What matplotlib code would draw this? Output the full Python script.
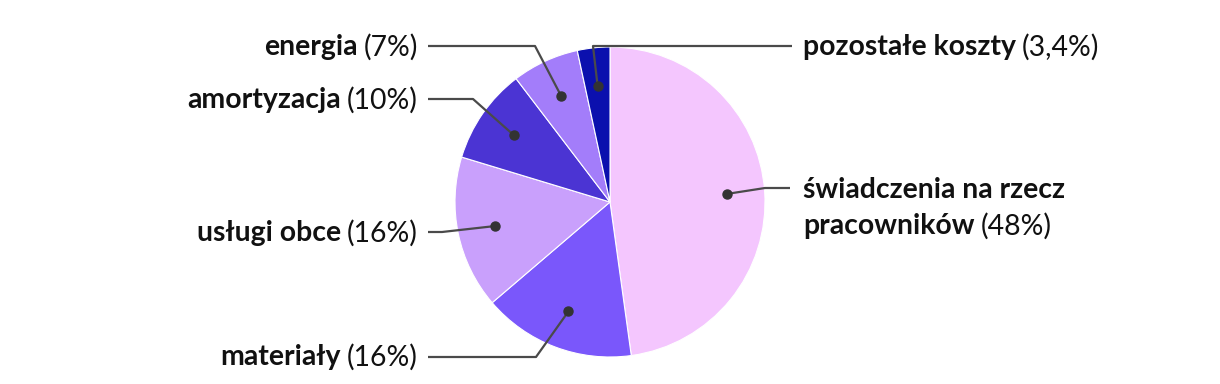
import matplotlib
matplotlib.use('Agg')
import matplotlib.pyplot as plt
import numpy as np

plt.rcParams['font.family'] = ['Lato', 'DejaVu Sans']

names = ['świadczenia na rzecz\npracowników', 'materiały', 'usługi obce',
         'amortyzacja', 'energia', 'pozostałe koszty']
pct_text = ['(48%)', '(16%)', '(16%)', '(10%)', '(7%)', '(3,4%)']
values = [48, 16, 16, 10, 7, 3.4]
colors = ['#f4c6fe', '#7a57fb', '#c9a0fc', '#4b34d3', '#a37dfa', '#0b10ae']

W, H = 1220, 384
# label layout in pixels (x of text anchor, y from top, side)
label_pos = [(803, 190, 'r'), (418, 357, 'l'), (418, 233, 'l'),
             (418, 100, 'l'), (418, 47, 'l'), (803, 47, 'r')]
# leader elbow and end (pixels from top)
elbows = [(765, 188), (536, 357), (442, 232), (473, 99), (535, 46), (593, 46)]
ends = [790, 428, 428, 428, 428, 792]

fig = plt.figure(figsize=(W / 100, H / 100), dpi=100)
ax = fig.add_axes([0, 0, 1, 1])

cx, cy, r = 610, H - 202, 155
wedges, _ = ax.pie(values, colors=colors, startangle=90, counterclock=False,
                   center=(cx, cy), radius=r,
                   wedgeprops=dict(edgecolor='white', linewidth=0.8))
ax.set_xlim(0, W)
ax.set_ylim(0, H)
ax.set_aspect('equal')
ax.axis('off')

fs = 20.4
fig.canvas.draw()
renderer = fig.canvas.get_renderer()


def width_of(t):
    bb = t.get_window_extent(renderer=renderer)
    return bb.width


for w, name, pt, (lx, ly, side), (ex, ey), endx in zip(
        wedges, names, pct_text, label_pos, elbows, ends):
    mid = np.deg2rad((w.theta1 + w.theta2) / 2)
    dx = cx + 0.755 * r * np.cos(mid)
    dy = cy + 0.755 * r * np.sin(mid)
    ax.plot([dx, ex, endx], [dy, H - ey, H - ey], color='#4a4a4a', lw=1.6,
            solid_capstyle='butt', zorder=3)
    ax.plot(dx, dy, 'o', color='#333333', ms=6.5, zorder=4)

    lines = name.split('\n')
    y = H - ly
    if side == 'l':
        t2 = ax.text(lx, y, pt, ha='right', va='center', fontsize=fs,
                     color='#111111')
        wpct = width_of(t2)
        ax.text(lx - wpct - 6, y, lines[-1], ha='right', va='center',
                fontsize=fs, fontweight='bold', color='#111111')
    else:
        for i, ln in enumerate(lines[:-1]):
            ax.text(lx, y, ln, ha='left', va='center', fontsize=fs,
                    fontweight='bold', color='#111111')
            y -= 36
        t1 = ax.text(lx, y, lines[-1], ha='left', va='center', fontsize=fs,
                     fontweight='bold', color='#111111')
        wname = width_of(t1)
        ax.text(lx + wname + 6, y, pt, ha='left', va='center', fontsize=fs,
                color='#111111')

fig.savefig('out.png', dpi=100)
